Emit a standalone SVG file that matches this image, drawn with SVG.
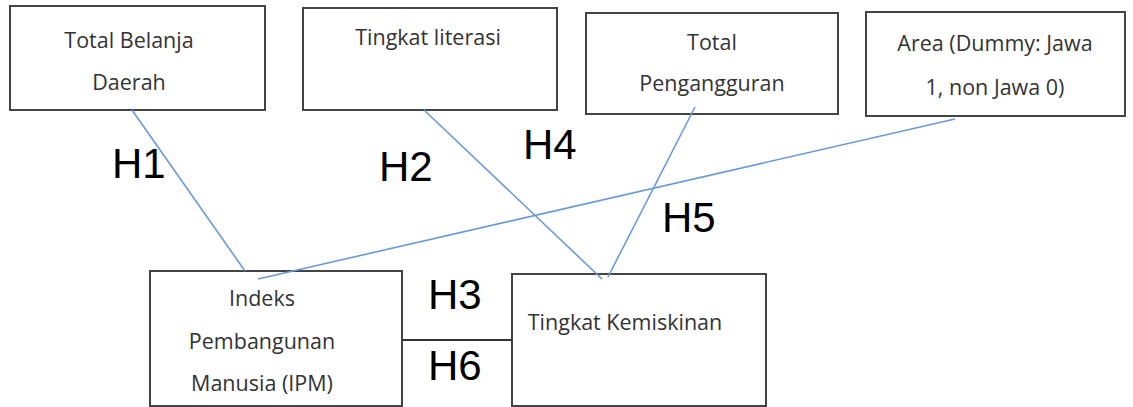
<svg xmlns="http://www.w3.org/2000/svg" width="1133" height="407" viewBox="0 0 1133 407">
<style>
.box{fill:#fff;stroke:#444;stroke-width:2}
.t{font-family:"Open Sans","Liberation Sans",sans-serif;font-size:21.5px;fill:#333;text-anchor:middle}
.h{font-family:"Liberation Sans",sans-serif;font-size:42px;fill:#000}
.c{stroke:#6a9ad6;stroke-width:1.6;fill:none}
.k{stroke:#333;stroke-width:2;fill:none}
</style>
<rect width="1133" height="407" fill="#fff"/>
<g id="node-belanja">
<rect class="box" x="10" y="6" width="255" height="104"/>
<text class="t" x="129" y="48">Total Belanja</text>
<text class="t" x="129" y="90">Daerah</text>
</g>
<g id="node-literasi">
<rect class="box" x="303" y="8" width="254" height="102"/>
<text class="t" x="428" y="45">Tingkat literasi</text>
</g>
<g id="node-pengangguran">
<rect class="box" x="586" y="13" width="252" height="101"/>
<text class="t" x="712" y="50">Total</text>
<text class="t" x="712" y="91">Pengangguran</text>
</g>
<g id="node-area">
<rect class="box" x="866" y="12" width="259" height="104"/>
<text class="t" x="995" y="51">Area (Dummy: Jawa</text>
<text class="t" x="995" y="95">1, non Jawa 0)</text>
</g>
<g id="node-ipm">
<rect class="box" x="150" y="271" width="252" height="135"/>
<text class="t" x="262" y="306">Indeks</text>
<text class="t" x="262" y="349">Pembangunan</text>
<text class="t" x="262" y="391">Manusia (IPM)</text>
</g>
<g id="node-kemiskinan">
<rect class="box" x="512" y="274" width="254" height="132"/>
<text class="t" x="625" y="330">Tingkat Kemiskinan</text>
</g>
<g id="connectors">
<line class="c" x1="132" y1="110" x2="245" y2="271"/>
<line class="c" x1="424" y1="110" x2="602" y2="279"/>
<line class="c" x1="695" y1="107" x2="608" y2="277"/>
<line class="c" x1="955" y1="119" x2="258" y2="279"/>
<line class="k" x1="402" y1="340" x2="512" y2="340"/>
</g>
<g id="labels">
<text class="h" x="112" y="178">H1</text>
<text class="h" x="379" y="181">H2</text>
<text class="h" x="428" y="309">H3</text>
<text class="h" x="523" y="159">H4</text>
<text class="h" x="662" y="232">H5</text>
<text class="h" x="428" y="380">H6</text>
</g>
</svg>
